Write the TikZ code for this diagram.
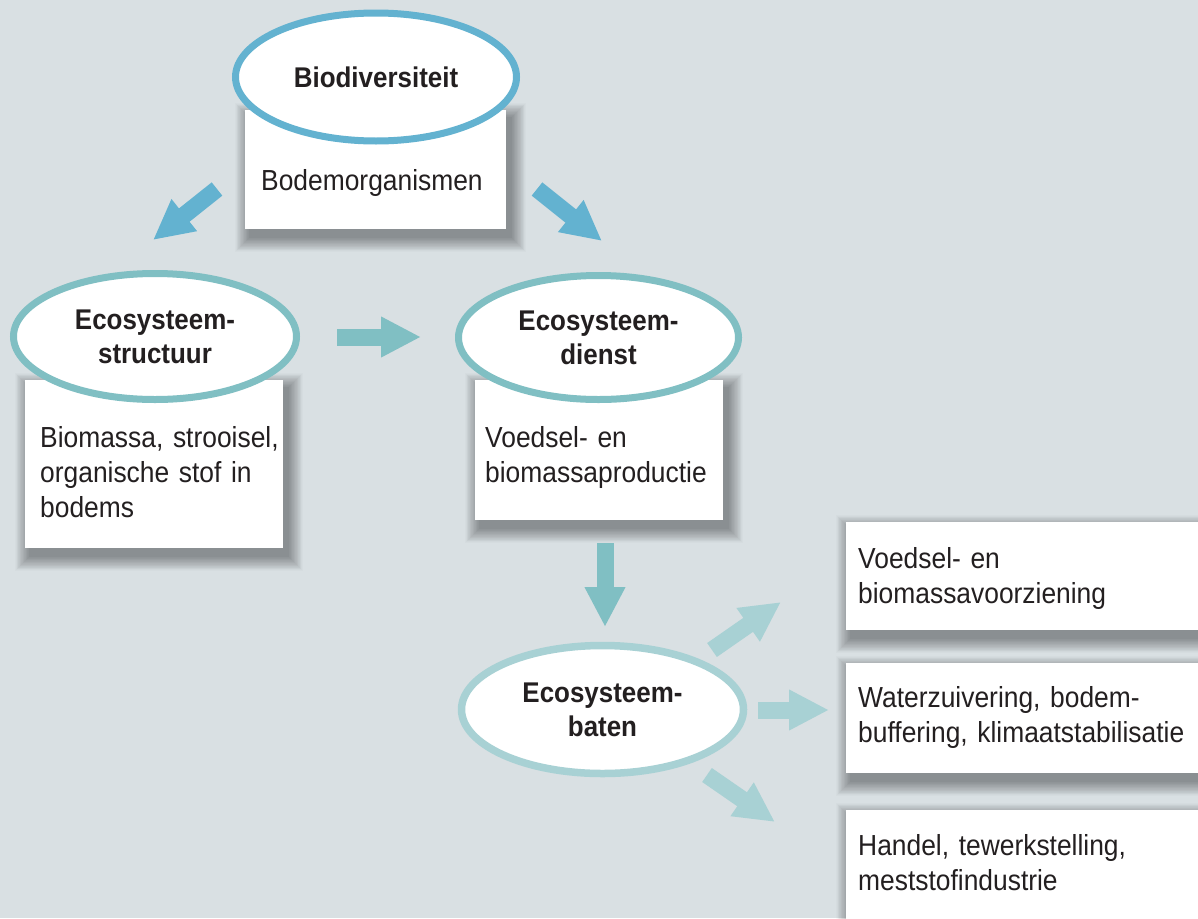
\documentclass[tikz,border=0pt]{standalone}
\usepackage{fontspec}
\setmainfont{Liberation Sans}[FakeStretch=0.91]
\usetikzlibrary{shapes.geometric,arrows.meta}

\definecolor{bgcol}{RGB}{217,224,227}
\definecolor{bluecol}{RGB}{99,178,208}
\definecolor{tealcol}{RGB}{128,191,195}
\definecolor{lightcol}{RGB}{168,209,212}
\definecolor{inkcol}{RGB}{35,31,32}

\pgfdeclarelayer{back}
\pgfdeclarelayer{shade}
\pgfsetlayers{back,shade,main}

\tikzset{
  panel/.style={fill=white, draw=none, rectangle, inner sep=0pt},
  ring/.style={ellipse, fill=white, line width=7pt, inner sep=0pt,
    text=inkcol, align=center, font=\bfseries\fontsize{28.5pt}{34pt}\selectfont},
  label/.style={anchor=base west, inner sep=0pt, text width=400pt, align=left,
    text=inkcol, font=\fontsize{29pt}{35pt}\selectfont},
  flow/.style={line width=17pt, -{Triangle[width=38pt,length=40pt]}}
}

% soft drop shadow: many faint rectangles, offset down and right
\newcommand\panelshadow[1]{%
  \foreach \e in {1,...,24}{%
    \pgfmathsetmacro\d{0.6*\e}%
    \fill[black, opacity=0.017]
      ([shift={(5-\d,8-\d)}]#1.north west) rectangle ([shift={(5+\d,8+\d)}]#1.south east);
  }%
}

\begin{document}
\begin{tikzpicture}[x=1pt,y=-1pt]
\begin{pgfonlayer}{back}
  \fill[bgcol] (0,0) rectangle (1198,918);
\end{pgfonlayer}
\useasboundingbox (0,0) rectangle (1198,918);

% white panels under the ellipses and on the right
\node[panel, minimum width=261pt, minimum height=119pt] (pbio) at (375.5,169.5) {};
\node[panel, minimum width=258pt, minimum height=168pt] (pstruct) at (154,464) {};
\node[panel, minimum width=248pt, minimum height=140pt] (pdienst) at (599,450) {};
\node[panel, minimum width=370pt, minimum height=108pt] (pr1) at (1031,576) {};
\node[panel, minimum width=370pt, minimum height=110pt] (pr2) at (1031,718) {};
\node[panel, minimum width=370pt, minimum height=140pt] (pr3) at (1031,880) {};

\begin{pgfonlayer}{shade}
  \clip (0,0) rectangle (1198,918);
  \panelshadow{pbio}
  \panelshadow{pstruct}
  \panelshadow{pdienst}
  \panelshadow{pr1}
  \panelshadow{pr2}
  \panelshadow{pr3}
\end{pgfonlayer}

% panel texts
\node[label] (tbio) at (261,190) {Bodemorganismen};
\node[label] (tstruct) at (40,447) {Biomassa, strooisel,\\organische stof in\\bodems};
\node[label] (tdienst) at (485,447) {Voedsel- en\\biomassaproductie};
\node[label] (tr1) at (858,568) {Voedsel- en\\biomassavoorziening};
\node[label] (tr2) at (858,707) {Waterzuivering, bodem-\\buffering, klimaatstabilisatie};
\node[label] (tr3) at (858,855) {Handel, tewerkstelling,\\meststofindustrie};

% ellipses
\node[ring, draw=bluecol, minimum width=281pt, minimum height=128pt] (bio) at (376,77) {Biodiversiteit};
\node[ring, draw=tealcol, minimum width=283pt, minimum height=126pt] (struct) at (155,336.5) {Ecosysteem-\\structuur};
\node[ring, draw=tealcol, minimum width=280pt, minimum height=124pt] (dienst) at (598.5,337.5) {Ecosysteem-\\dienst};
\node[ring, draw=lightcol, line width=7.5pt, minimum width=282pt, minimum height=128pt] (baten) at (602.5,709.5) {Ecosysteem-\\baten};

% arrow end points
\coordinate (a1s) at (217,189);  \coordinate (a1e) at (153,240);
\coordinate (a2s) at (537,189);  \coordinate (a2e) at (602,241);
\coordinate (a3s) at (337,337);  \coordinate (a3e) at (421,337);
\coordinate (a4s) at (605,543);  \coordinate (a4e) at (605,627);
\coordinate (a5s) at (712,650);  \coordinate (a5e) at (781,602);
\coordinate (a6s) at (758,710);  \coordinate (a6e) at (829,710);
\coordinate (a7s) at (707,775);  \coordinate (a7e) at (775,822);

% block arrows
\draw[flow, bluecol] (a1s) -- (a1e);
\draw[flow, bluecol] (a2s) -- (a2e);
\draw[flow, tealcol] (a3s) -- (a3e);
\draw[flow, tealcol] (a4s) -- (a4e);
\draw[flow, lightcol] (a5s) -- (a5e);
\draw[flow, lightcol] (a6s) -- (a6e);
\draw[flow, lightcol] (a7s) -- (a7e);
\end{tikzpicture}
\end{document}
